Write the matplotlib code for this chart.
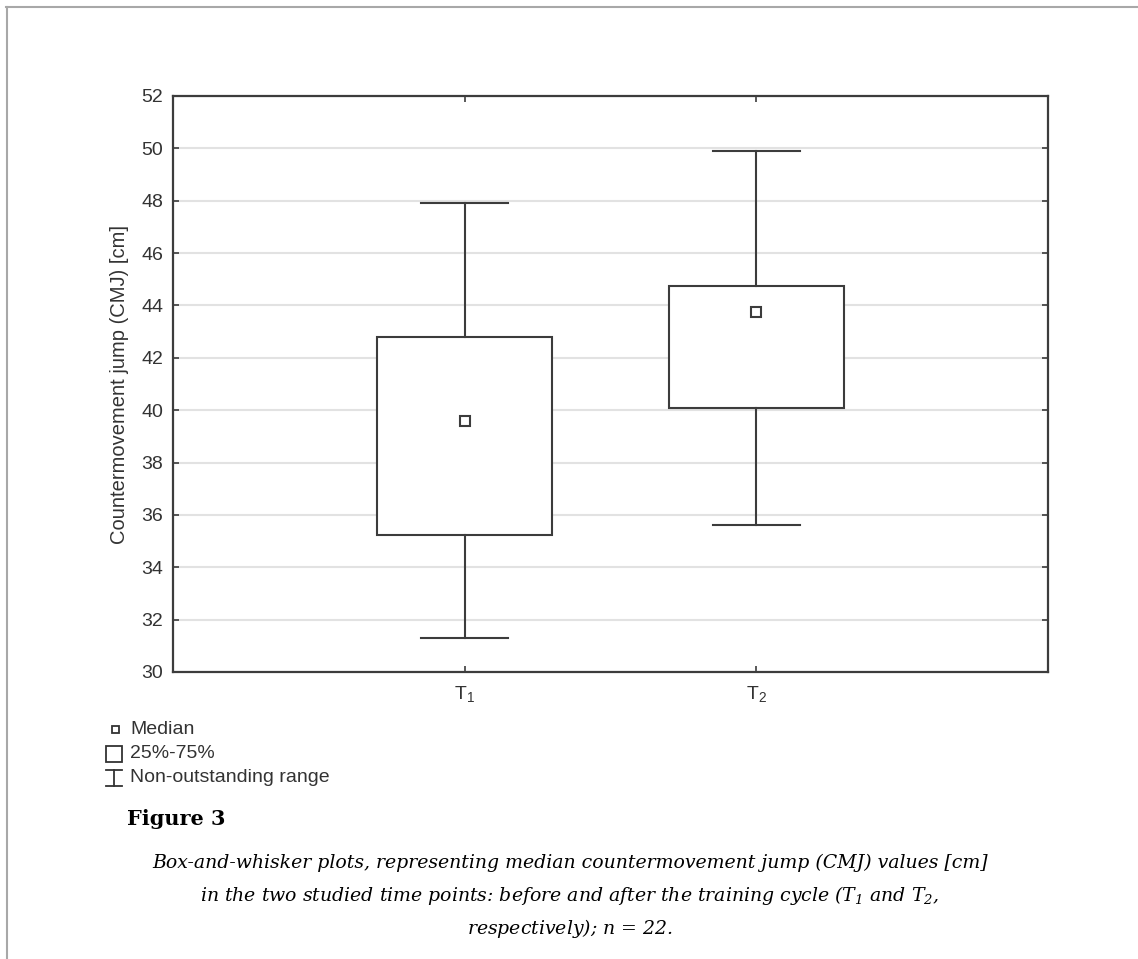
import matplotlib
matplotlib.use("Agg")
import matplotlib.pyplot as plt
from matplotlib.lines import Line2D
from matplotlib.patches import Rectangle

# ---- data ----
categories = ["T$_1$", "T$_2$"]
whisker_low = [31.3, 35.6]
q1 = [35.25, 40.1]
medians = [39.6, 43.75]
q3 = [42.8, 44.75]
whisker_high = [47.9, 49.9]
y_ticks = list(range(30, 53, 2))

ylabel = "Countermovement jump (CMJ) [cm]"
legend_labels = ["Median", "25%-75%", "Non-outstanding range"]

plt.rcParams["font.family"] = ["Liberation Sans", "DejaVu Sans"]
plt.rcParams["mathtext.default"] = "regular"

W, H = 1138, 959
fig = plt.figure(figsize=(W / 100, H / 100), dpi=100)
fig.patch.set_facecolor("white")

ax = fig.add_axes([173 / W, 1 - 672 / H, (1048 - 173) / W, (672 - 96) / H])

dark = "#3c3c3c"
txt = "#333333"
positions = [1, 2]
stats = []
for i in range(len(categories)):
    stats.append(dict(whislo=whisker_low[i], q1=q1[i], med=medians[i],
                      q3=q3[i], whishi=whisker_high[i], fliers=[]))

ax.bxp(stats, positions=positions, widths=0.6, showfliers=False,
       patch_artist=True,
       boxprops=dict(facecolor="white", edgecolor=dark, linewidth=1.5),
       whiskerprops=dict(color=dark, linewidth=1.5),
       capprops=dict(color=dark, linewidth=1.5),
       medianprops=dict(linewidth=0), zorder=3)
ax.plot(positions, medians, linestyle="none", marker="s", markersize=6.5,
        markerfacecolor="white", markeredgecolor=dark, markeredgewidth=1.5,
        zorder=4)

ax.set_xlim(0, 3)
ax.set_ylim(30, 52)
ax.set_yticks(y_ticks)
ax.set_xticks(positions)
ax.set_xticklabels(categories)
ax.yaxis.grid(True, color="#e2e2e2", linewidth=1.5, zorder=0)
ax.set_axisbelow(True)

ax.tick_params(axis="y", direction="in", length=4, width=1.2, colors=dark,
               labelsize=14, labelcolor=txt, pad=7, right=True)
ax.tick_params(axis="x", direction="in", length=4, width=1.2, colors=dark,
               labelsize=14, labelcolor=txt, pad=9, top=True)

for s in ax.spines.values():
    s.set_color(dark)
    s.set_linewidth(1.6)

ax.set_ylabel(ylabel, fontsize=14.5, color=txt, labelpad=9)

# ---- legend (drawn in figure pixel coordinates) ----
def px(x, y):
    return x / W, 1 - y / H

tr = fig.transFigure
leg_color = "#333333"
leg_fs = 14
# Median symbol: small square
fig.add_artist(Rectangle(px(111.5, 733), 7 / W, 7 / H, transform=tr,
                         facecolor="white", edgecolor=leg_color, lw=1.3))
fig.text(*px(130, 729), legend_labels[0], fontsize=leg_fs, color=leg_color,
         va="center", ha="left")
# 25-75 box symbol
fig.add_artist(Rectangle(px(106, 762), 16 / W, 16 / H, transform=tr,
                         facecolor="white", edgecolor=leg_color, lw=1.3))
fig.text(*px(130, 754), legend_labels[1], fontsize=leg_fs, color=leg_color,
         va="center", ha="left")
# whisker symbol
fig.add_artist(Line2D([106 / W, 122 / W], [1 - 770 / H, 1 - 770 / H], transform=tr,
                      color=leg_color, lw=1.3))
fig.add_artist(Line2D([106 / W, 122 / W], [1 - 786 / H, 1 - 786 / H], transform=tr,
                      color=leg_color, lw=1.3))
fig.add_artist(Line2D([114 / W, 114 / W], [1 - 770 / H, 1 - 786 / H], transform=tr,
                      color=leg_color, lw=1.3))
fig.text(*px(130, 777), legend_labels[2], fontsize=leg_fs, color=leg_color,
         va="center", ha="left")

# ---- caption ----
serif = ["DejaVu Serif", "Liberation Serif"]
fig.text(*px(127, 819), "Figure 3", fontsize=15, fontweight="bold",
         family=serif, color="black", va="center", ha="left")
cap_lines = [
    "Box-and-whisker plots, representing median countermovement jump (CMJ) values [cm]",
    "in the two studied time points: before and after the training cycle (T$_1$ and T$_2$,",
    "respectively); $n$ = 22.",
]
for i, line in enumerate(cap_lines):
    fig.text(*px(570, 863 + 32.5 * i), line, fontsize=13.6, fontstyle="italic",
             family=serif, color="black", va="center", ha="center")

# ---- page frame lines ----
frame = "#a8a8a8"
fig.add_artist(Line2D([6 / W, 1], [1 - 7 / H, 1 - 7 / H], transform=tr,
                      color=frame, lw=1.5))
fig.add_artist(Line2D([7 / W, 7 / W], [1 - 7 / H, 0], transform=tr,
                      color=frame, lw=1.5))

fig.savefig("out.png", dpi=100, facecolor="white")
